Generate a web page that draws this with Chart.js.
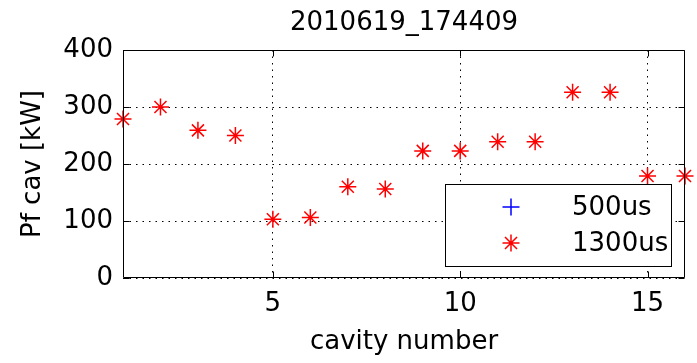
<!DOCTYPE html>
<html>
<head>
<meta charset="utf-8">
<script src="https://cdn.jsdelivr.net/npm/chart.js@4.4.0/dist/chart.umd.min.js"></script>
<style>
  html, body { margin: 0; padding: 0; background: #fff; }
  #wrap { width: 697px; height: 363px; }
</style>
</head>
<body>
<div id="wrap"><canvas id="c" width="697" height="363"></canvas></div>
<script>
// ---- data ----
const chartTitle = '2010619_174409';
const cavityNumbers = [1, 2, 3, 4, 5, 6, 7, 8, 9, 10, 11, 12, 13, 14, 15, 16];
const pf1300us = [279, 300, 259, 250, 103, 106, 160, 156, 223, 223, 239, 239, 326, 326, 179, 179];
const pf500us = [];          // no visible points in the reference
const xTickValues = [5, 10, 15];
const yTickValues = [0, 100, 200, 300, 400];
const seriesLabels = ['500us', '1300us'];
const xTitle = 'cavity number';
const yTitle = 'Pf cav [kW]';

const FONT = 'DejaVu Sans';
Chart.defaults.font.family = FONT;
Chart.defaults.color = '#000';

function toPoints(xs, ys) {
  return ys.map((v, i) => ({ x: xs[i], y: v }));
}

// title centred over the plot area
const plotTitlePlugin = {
  id: 'plotTitle',
  afterDraw(chart) {
    const { ctx, chartArea: a } = chart;
    ctx.save();
    ctx.font = '26px "' + FONT + '"';
    ctx.fillStyle = '#000';
    ctx.textAlign = 'center';
    ctx.textBaseline = 'middle';
    ctx.fillText(chartTitle, (a.left + a.right) / 2, 23);
    ctx.restore();
  }
};

// frame + inward ticks
const framePlugin = {
  id: 'frame',
  afterDraw(chart) {
    const { ctx, chartArea: a, scales } = chart;
    const L = Math.round(a.left) + 0.5, R = Math.round(a.right) - 0.5;
    const T = Math.round(a.top) + 0.5, B = Math.round(a.bottom) - 0.5;
    const tl = 6;
    ctx.save();
    ctx.strokeStyle = '#000';
    ctx.lineWidth = 1;
    ctx.setLineDash([]);
    ctx.beginPath();
    ctx.rect(L, T, R - L, B - T);
    xTickValues.forEach(v => {
      const x = Math.round(scales.x.getPixelForValue(v)) + 0.5;
      ctx.moveTo(x, B); ctx.lineTo(x, B - tl);
      ctx.moveTo(x, T); ctx.lineTo(x, T + tl);
    });
    yTickValues.forEach(v => {
      const y = Math.round(scales.y.getPixelForValue(v)) + 0.5;
      ctx.moveTo(L, y); ctx.lineTo(L + tl, y);
      ctx.moveTo(R, y); ctx.lineTo(R - tl, y);
    });
    ctx.stroke();
    ctx.restore();
  }
};

function drawMarker(ctx, style, x, y, r, color, lw) {
  ctx.save();
  ctx.strokeStyle = color;
  ctx.lineWidth = lw;
  ctx.beginPath();
  if (style === 'cross') {
    ctx.moveTo(x - r, y); ctx.lineTo(x + r, y);
    ctx.moveTo(x, y - r); ctx.lineTo(x, y + r);
  } else {
    const d = r * Math.SQRT1_2;
    ctx.moveTo(x - r, y); ctx.lineTo(x + r, y);
    ctx.moveTo(x, y - r); ctx.lineTo(x, y + r);
    ctx.moveTo(x - d, y - d); ctx.lineTo(x + d, y + d);
    ctx.moveTo(x - d, y + d); ctx.lineTo(x + d, y - d);
  }
  ctx.stroke();
  ctx.restore();
}

// legend box inside the plot area (bottom right)
const legendBoxPlugin = {
  id: 'legendBox',
  afterDraw(chart) {
    const { ctx, chartArea: a } = chart;
    const w = 226, h = 82;
    const right = Math.round(a.right) - 14, bottom = Math.round(a.bottom) - 12;
    const left = right - w, top = bottom - h;
    ctx.save();
    ctx.fillStyle = '#fff';
    ctx.fillRect(left, top, w, h);
    ctx.strokeStyle = '#000';
    ctx.lineWidth = 1;
    ctx.strokeRect(left + 0.5, top + 0.5, w, h);
    ctx.font = '26px "' + FONT + '"';
    ctx.fillStyle = '#000';
    ctx.textBaseline = 'middle';
    ctx.textAlign = 'left';
    const rows = [top + 23, top + 59];
    chart.data.datasets.forEach((ds, i) => {
      const y = rows[i];
      drawMarker(ctx, ds.pointStyle, left + 66, y, 8.5, ds.borderColor, 1.5);
      ctx.fillText(ds.label, left + 127, y + 1);
    });
    ctx.restore();
  }
};

const ctx = document.getElementById('c').getContext('2d');
new Chart(ctx, {
  type: 'scatter',
  data: {
    datasets: [
      {
        label: seriesLabels[0],
        data: toPoints(cavityNumbers, pf500us),
        pointStyle: 'cross',
        borderColor: '#0000ff',
        backgroundColor: '#0000ff',
        pointRadius: 8.5,
        pointBorderWidth: 1.5,
        clip: false
      },
      {
        label: seriesLabels[1],
        data: toPoints(cavityNumbers, pf1300us),
        pointStyle: 'star',
        borderColor: '#ff0000',
        backgroundColor: '#ff0000',
        pointRadius: 8.5,
        pointBorderWidth: 1.5,
        clip: false
      }
    ]
  },
  options: {
    responsive: false,
    animation: false,
    events: [],
    layout: { padding: { left: 0, right: 12, top: 50, bottom: 0 } },
    plugins: {
      legend: { display: false },
      tooltip: { enabled: false },
      title: { display: false }
    },
    scales: {
      x: {
        type: 'linear',
        min: 1,
        max: 16,
        afterBuildTicks(scale) { scale.ticks = xTickValues.map(v => ({ value: v })); },
        afterFit(scale) { scale.height = 85; },
        ticks: {
          padding: 11,
          color: '#000',
          font: { family: FONT, size: 26 },
          maxRotation: 0,
          callback: v => String(v)
        },
        grid: {
          drawTicks: false,
          color: '#000',
          lineWidth: 1
        },
        border: { display: false, dash: [1.5, 5] },
        title: {
          display: true,
          text: xTitle,
          color: '#000',
          font: { family: FONT, size: 26 },
          padding: { top: 0, bottom: 5 }
        }
      },
      y: {
        type: 'linear',
        min: 0,
        max: 400,
        afterBuildTicks(scale) { scale.ticks = yTickValues.map(v => ({ value: v })); },
        afterFit(scale) { scale.width = 123; },
        ticks: {
          padding: 10,
          color: '#000',
          font: { family: FONT, size: 26 },
          callback: v => String(v)
        },
        grid: {
          drawTicks: false,
          color: '#000',
          lineWidth: 1
        },
        border: { display: false, dash: [1.5, 5] },
        title: {
          display: true,
          text: yTitle,
          color: '#000',
          font: { family: FONT, size: 26 },
          padding: { top: 18, bottom: 0 }
        }
      }
    }
  },
  plugins: [plotTitlePlugin, framePlugin, legendBoxPlugin]
});
</script>
</body>
</html>
